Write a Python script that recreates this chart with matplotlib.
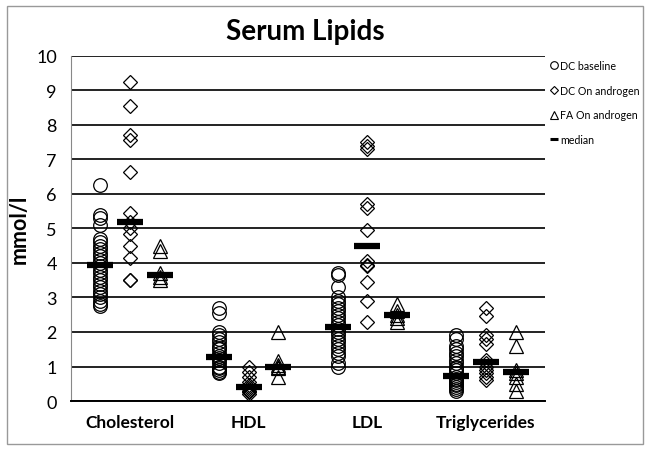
import matplotlib
matplotlib.use("Agg")
import matplotlib.pyplot as plt
from matplotlib.lines import Line2D
from matplotlib.patches import Rectangle

plt.rcParams['font.family'] = ['Lato', 'DejaVu Sans']

categories = ["Cholesterol", "HDL", "LDL", "Triglycerides"]

# DC baseline (circles)
dc_base = [
    [6.25, 5.4, 5.3, 5.1, 4.7, 4.6, 4.5, 4.4, 4.3, 4.2, 4.1, 4.0, 3.9, 3.8,
     3.7, 3.6, 3.5, 3.4, 3.3, 3.2, 3.1, 3.0, 2.9, 2.8, 2.75],
    [2.7, 2.55, 2.0, 1.9, 1.8, 1.7, 1.6, 1.55, 1.5, 1.4, 1.3, 1.25, 1.2,
     1.1, 1.0, 0.95, 0.9, 0.85, 0.8],
    [3.7, 3.65, 3.3, 3.0, 2.9, 2.8, 2.7, 2.6, 2.5, 2.4, 2.3, 2.2, 2.1, 2.0,
     1.9, 1.8, 1.7, 1.6, 1.5, 1.4, 1.3, 1.1, 1.0],
    [1.9, 1.8, 1.6, 1.5, 1.4, 1.3, 1.2, 1.1, 1.0, 0.95, 0.9, 0.8, 0.7, 0.65,
     0.6, 0.55, 0.5, 0.45, 0.4, 0.35, 0.3],
]
# DC on androgen (diamonds)
dc_andro = [
    [9.25, 8.55, 7.7, 7.55, 6.65, 5.45, 5.2, 5.0, 4.85, 4.5, 4.15, 3.52, 3.5],
    [1.0, 0.85, 0.7, 0.55, 0.45, 0.4, 0.35, 0.3, 0.25, 0.2],
    [7.5, 7.4, 7.3, 5.7, 5.6, 4.95, 4.05, 3.95, 3.9, 3.45, 2.9, 2.3],
    [2.7, 2.45, 1.9, 1.8, 1.65, 1.2, 1.1, 1.0, 0.9, 0.8, 0.7, 0.6],
]
# FA on androgen (triangles)
fa_andro = [
    [4.5, 4.35, 3.7, 3.6, 3.5],
    [2.0, 1.15, 1.05, 1.0, 0.95, 0.7],
    [2.8, 2.6, 2.5, 2.4, 2.3],
    [2.0, 1.6, 0.9, 0.8, 0.7, 0.5, 0.3],
]
medians_base = [3.95, 1.28, 2.15, 0.72]
medians_dc = [5.2, 0.4, 4.5, 1.12]
medians_fa = [3.65, 1.0, 2.5, 0.85]

fig = plt.figure(figsize=(6.49, 4.52), dpi=100)
ax = fig.add_axes([0.109, 0.1106, 0.731, 0.7634])

offsets = [-0.25, 0.0, 0.25]
groups = [(dc_base, 'o', 9.8), (dc_andro, 'D', 7.2), (fa_andro, '^', 10.5)]
for (data, mk, ms), off in zip(groups, offsets):
    for i, vals in enumerate(data):
        ax.plot([i + off] * len(vals), vals, linestyle='none', marker=mk,
                markersize=ms, markerfacecolor='none', markeredgecolor='black',
                markeredgewidth=0.9, zorder=3)

for meds, off in zip([medians_base, medians_dc, medians_fa], offsets):
    ax.plot([i + off for i in range(len(meds))], meds, linestyle='none',
            marker='_', markersize=19, markeredgewidth=4.5, color='black',
            zorder=4)

ax.set_xlim(-0.5, 3.5)
ax.set_ylim(0, 10)
ax.set_yticks(range(0, 11))
ax.set_xticks(range(4))
ax.set_xticklabels(categories, fontweight='bold', fontsize=12.5)
ax.tick_params(axis='y', labelsize=13, length=0, pad=10)
ax.tick_params(axis='x', length=0, pad=9)
ax.yaxis.grid(True, color='#222222', linewidth=1.4)
ax.set_axisbelow(True)
for s in ['top', 'right']:
    ax.spines[s].set_visible(False)
ax.spines['left'].set_color('#888888')
ax.spines['left'].set_linewidth(0.8)
ax.spines['bottom'].set_linewidth(1.4)
ax.set_ylabel("mmol/l", fontweight='bold', fontsize=15.5)
ax.yaxis.set_label_coords(-0.087, 0.5)

fig.text(0.47, 0.93, "Serum Lipids", fontweight='bold', fontsize=20,
         ha='center', va='center')

handles = [
    Line2D([], [], linestyle='none', marker='o', markersize=5.5,
           markerfacecolor='none', markeredgecolor='black', markeredgewidth=0.8),
    Line2D([], [], linestyle='none', marker='D', markersize=4.2,
           markerfacecolor='none', markeredgecolor='black', markeredgewidth=0.8),
    Line2D([], [], linestyle='none', marker='^', markersize=5.5,
           markerfacecolor='none', markeredgecolor='black', markeredgewidth=0.8),
    Line2D([], [], linestyle='none', marker='_', markersize=5.5,
           markeredgewidth=2.2, color='black'),
]
labels = ["DC baseline", "DC On androgen", "FA On androgen", "median"]
fig.legend(handles, labels, loc='upper left', bbox_to_anchor=(0.842, 0.874),
           frameon=False, fontsize=7.7, handlelength=0.6, handletextpad=0.3,
           labelspacing=1.27, borderaxespad=0)

fig.patches.append(Rectangle((0.011, 0.015), 0.979, 0.97, transform=fig.transFigure,
                             fill=False, edgecolor='#999999', linewidth=1))

fig.savefig("out.png", dpi=100)
